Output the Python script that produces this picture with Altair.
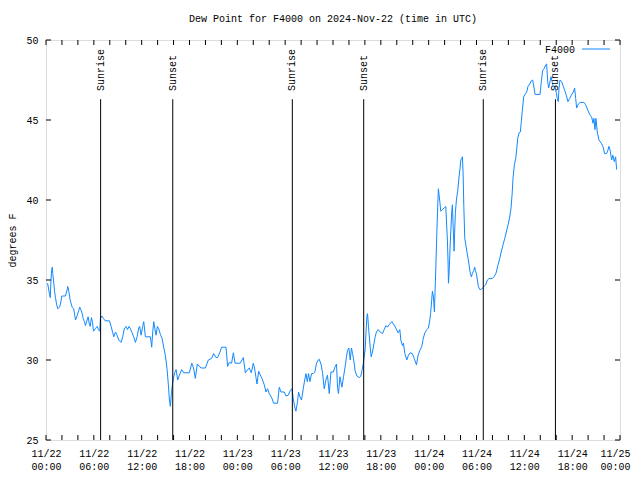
import altair as alt
import pandas as pd

# Dew point series (hours since 2024-11-22 00:00 UTC, degrees F)
hours = [0.19,0.31,0.44,0.53,0.60,0.69,0.78,0.85,0.98,1.07,1.19,1.32,1.48,1.69,1.82,1.98,2.19,2.44,2.66,2.73,
         2.86,3.03,3.28,3.48,3.70,3.86,4.11,4.24,4.41,4.54,4.66,4.82,4.95,5.16,5.29,5.41,5.54,5.70,5.83,5.95,
         6.17,6.42,6.58,6.74,6.83,6.99,7.21,7.42,7.96,8.17,8.37,8.50,8.71,8.92,9.12,9.42,9.62,9.84,10.05,10.21,
         10.43,10.59,10.80,11.00,11.22,11.43,11.63,11.75,11.93,12.13,12.26,12.47,13.10,13.26,13.38,13.51,13.68,13.81,13.97,14.14,
         14.35,14.56,14.76,14.97,15.19,15.35,15.48,15.60,15.73,15.85,15.98,16.14,16.32,16.52,16.73,17.02,17.27,17.98,18.29,18.51,
         18.73,18.98,19.45,19.99,20.36,20.78,21.03,21.33,21.53,21.83,22.03,22.58,22.78,22.99,23.28,23.50,23.71,24.37,24.75,25.00,
         25.29,25.50,25.75,26.00,26.16,26.34,26.47,26.67,26.88,27.09,27.38,27.59,27.79,28.01,28.35,28.55,29.05,29.26,29.47,29.89,
         30.10,30.39,30.64,30.85,31.01,31.18,31.35,31.55,31.68,31.85,32.05,32.27,32.48,32.61,32.77,32.93,33.11,33.31,33.52,33.73,
         33.93,34.15,34.27,34.49,34.69,34.90,35.11,35.31,35.53,35.74,36.03,36.24,36.44,36.57,36.69,36.87,37.12,37.32,37.53,37.69,
         37.82,37.99,38.16,38.32,38.45,38.57,38.78,39.00,39.28,39.50,39.66,39.79,39.91,40.04,40.12,40.25,40.33,40.45,40.63,40.79,
         40.95,41.13,41.29,41.45,41.67,41.92,42.21,42.42,42.63,42.83,43.04,43.38,43.58,43.88,44.17,44.38,44.51,44.71,44.84,45.01,
         45.26,45.46,45.68,45.96,46.18,46.47,46.68,46.89,47.14,47.30,47.52,47.77,47.97,48.14,48.24,48.34,48.47,48.60,48.72,48.81,
         48.90,49.02,49.15,49.22,49.31,49.40,49.52,49.72,49.94,50.15,50.27,50.35,50.44,50.48,50.56,50.69,50.78,50.90,50.98,51.06,
         51.19,51.28,51.35,51.48,51.65,51.82,51.94,52.03,52.15,52.23,52.32,52.41,52.53,52.69,52.82,52.94,53.07,53.19,53.36,53.48,
         53.66,53.78,53.86,53.98,54.11,54.23,54.41,54.57,54.74,54.95,55.16,55.36,55.58,55.99,56.20,56.42,56.49,56.67,56.92,57.12,
         57.33,57.54,57.74,57.96,58.17,58.33,58.46,58.58,58.75,58.92,59.05,59.17,59.34,59.50,59.62,59.75,59.92,60.09,60.30,60.46,
         60.68,60.88,61.05,61.22,61.34,61.97,62.13,62.30,62.47,62.68,62.80,62.93,63.05,63.18,63.34,63.51,63.63,63.85,64.01,64.13,
         64.26,64.35,64.47,64.68,64.89,65.10,65.26,65.47,65.69,65.89,66.14,66.31,66.44,66.56,66.73,66.98,67.48,67.69,67.98,68.23,
         68.44,68.61,68.73,68.86,68.98,69.15,69.36,69.65,69.86,70.07,70.32,70.48,70.61,70.77,70.95,71.11,71.28,71.45,71.58]
dewpoint = [34.8,34.5,34.1,33.9,34.7,35.5,35.8,35.4,34.8,34.3,33.9,33.5,33.2,33.3,33.5,34.0,34.0,34.0,34.4,34.6,
            34.3,33.75,33.3,33.2,32.5,32.7,33.1,33.3,33.1,32.9,32.6,32.4,32.15,32.5,32.7,32.3,32.1,32.65,32.4,31.8,
            31.95,32.1,31.9,31.8,32.6,32.75,32.6,32.45,32.45,32.1,31.7,31.45,31.75,31.55,31.25,31.1,31.45,32.0,32.1,31.9,
            32.1,31.95,31.7,31.45,31.1,31.45,32.0,32.1,31.55,32.1,32.4,31.45,31.45,30.8,31.7,32.4,31.9,31.55,32.1,31.95,
            31.6,31.35,30.8,30.3,29.4,28.45,27.5,27.1,27.9,28.45,28.85,29.2,29.4,28.75,29.05,29.4,29.2,29.2,29.8,29.5,
            28.85,29.75,29.5,29.5,30.0,30.1,30.4,30.15,30.15,30.5,30.8,30.8,29.6,29.85,29.8,30.45,29.8,29.8,30.15,29.2,
            29.4,29.5,29.2,29.8,29.5,28.9,28.5,29.3,29.06,28.85,28.45,28.0,28.2,27.9,27.6,27.3,27.3,28.3,28.0,28.0,
            27.75,27.8,28.1,28.2,27.6,27.1,26.8,27.4,28.0,27.7,27.5,28.2,28.85,29.15,28.65,29.15,28.65,29.15,29.15,29.25,
            29.8,30.0,30.05,29.75,29.2,28.2,28.75,29.05,27.9,29.25,29.25,29.55,29.75,28.3,27.9,28.95,28.3,28.95,29.6,30.2,
            30.6,30.75,30.0,30.75,30.4,30.1,29.3,29.0,28.9,29.0,29.4,29.75,30.2,30.7,31.55,32.7,32.9,32.1,31.0,30.2,
            30.5,31.0,31.45,31.75,31.9,31.75,31.65,31.9,32.15,32.05,32.2,32.4,32.25,32.0,31.7,31.9,31.25,30.9,31.05,30.4,
            30.0,30.3,30.45,30.4,30.1,29.7,30.3,30.6,30.85,31.3,31.7,31.9,32.0,32.5,32.9,33.5,34.3,33.95,33.0,34.4,
            35.8,37.9,39.8,40.7,40.3,39.9,39.3,39.4,39.5,39.6,38.3,37.5,36.0,34.8,35.4,37.1,38.1,39.3,39.7,38.5,
            36.8,38.3,39.2,40.0,40.6,41.5,42.0,42.5,42.6,42.7,41.7,39.6,37.6,37.1,36.7,36.35,35.95,35.5,35.2,35.4,
            35.6,35.8,35.6,35.4,35.0,34.6,34.4,34.4,34.5,34.6,34.7,35.0,35.1,35.1,35.2,35.4,35.5,35.9,36.35,36.8,
            37.2,37.6,38.0,38.45,38.95,39.5,40.3,41.35,42.2,42.6,43.2,43.85,44.2,44.25,44.9,45.6,46.45,46.6,46.75,47.1,
            47.25,47.45,47.5,47.0,46.6,46.6,47.4,48.1,48.2,48.45,48.5,47.4,47.0,47.3,47.7,47.35,47.1,47.1,46.7,46.35,
            46.15,47.0,47.5,47.4,47.1,46.8,46.55,46.15,46.35,46.55,46.75,47.0,46.35,45.75,45.95,46.1,46.1,45.95,45.6,45.3,
            45.2,44.8,45.1,44.4,45.1,44.25,43.75,43.55,43.35,42.9,42.9,43.1,43.35,43.1,42.5,42.8,42.4,42.7,41.9]

# Sun events (hours since start)
sun_hours = [6.85, 15.9, 30.9, 39.85, 54.85, 63.9]
sun_labels = ["Sunrise", "Sunset", "Sunrise", "Sunset", "Sunrise", "Sunset"]

# Axis ticks / labels
x_label_hours = [0, 6, 12, 18, 24, 30, 36, 42, 48, 54, 60, 66, 72]
x_tick_labels = ["11/22|00:00", "11/22|06:00", "11/22|12:00", "11/22|18:00",
                 "11/23|00:00", "11/23|06:00", "11/23|12:00", "11/23|18:00",
                 "11/24|00:00", "11/24|06:00", "11/24|12:00", "11/24|18:00",
                 "11/25|00:00"]
x_minor_hours = list(range(0, 73, 2))
y_ticks = [25, 30, 35, 40, 45, 50]

FONT = "Liberation Mono"
LINE_COLOR = "#1288ff"
W, H = 574, 400

df = pd.DataFrame({"h": hours, "dp": dewpoint})
sun = pd.DataFrame({"h": sun_hours, "label": sun_labels})
xt = pd.DataFrame({"h": x_minor_hours})
yt = pd.DataFrame({"v": y_ticks})

label_arr = "[" + ",".join("'" + s + "'" for s in x_tick_labels) + "]"
x_scale = alt.Scale(domain=[0, 72], nice=False, zero=False)
y_scale = alt.Scale(domain=[25, 50], nice=False, zero=False)

x_axis = alt.Axis(values=x_label_hours, labelExpr=f"split({label_arr}[round(datum.value/6)], '|')",
                  ticks=False, domain=False, grid=False, labelPadding=8, labelLineHeight=13,
                  labelFlush=False, labelOverlap=False, labelBound=False, labelAlign="center",
                  labelOffset=alt.condition("datum.value == 72", alt.value(-5), alt.value(0)),
                  labelFont=FONT, labelFontSize=10, labelColor="black", title=None, labelAngle=0)
y_axis = alt.Axis(values=y_ticks, ticks=False, domain=False, grid=False, labelPadding=8,
                  labelFlush=False, labelOverlap=False,
                  labelFont=FONT, labelFontSize=10, labelColor="black",
                  title="degrees F", titleFont=FONT, titleFontSize=10, titleFontWeight="normal",
                  titleColor="black", titleX=-34, titleY=200, titleAngle=270, titleAlign="center",
                  titleBaseline="middle")

line = alt.Chart(df).mark_line(color=LINE_COLOR, strokeWidth=1, interpolate="linear").encode(
    x=alt.X("h:Q", scale=x_scale, axis=x_axis),
    y=alt.Y("dp:Q", scale=y_scale, axis=y_axis),
)

sun_rules = alt.Chart(sun).mark_rule(color="black", strokeWidth=1).encode(
    x=alt.X("h:Q", scale=x_scale),
    y=alt.datum(25),
    y2=alt.datum(46.3),
)
sun_text = alt.Chart(sun).mark_text(angle=270, align="left", baseline="middle",
                                    font=FONT, fontSize=10, color="black", dx=1).encode(
    x=alt.X("h:Q", scale=x_scale),
    y=alt.datum(46.75),
    text="label:N",
)

bottom_ticks = alt.Chart(xt).mark_rule(color="black").encode(
    x=alt.X("h:Q", scale=x_scale), y=alt.value(H), y2=alt.value(H - 5))
top_ticks = alt.Chart(xt).mark_rule(color="black").encode(
    x=alt.X("h:Q", scale=x_scale), y=alt.value(0), y2=alt.value(5))
left_ticks = alt.Chart(yt).mark_rule(color="black").encode(
    y=alt.Y("v:Q", scale=y_scale), x=alt.value(0), x2=alt.value(5))
right_ticks = alt.Chart(yt).mark_rule(color="black").encode(
    y=alt.Y("v:Q", scale=y_scale), x=alt.value(W), x2=alt.value(W - 5))

legend_text = alt.Chart(pd.DataFrame({"t": ["F4000"]})).mark_text(
    align="right", baseline="middle", font=FONT, fontSize=10, color="black").encode(
    x=alt.value(529), y=alt.value(10), text="t:N")
legend_line = alt.Chart(pd.DataFrame({"t": ["F4000"]})).mark_rule(
    color=LINE_COLOR, strokeWidth=1).encode(x=alt.value(536), x2=alt.value(564), y=alt.value(9))

chart = alt.layer(
    line, sun_rules, sun_text, bottom_ticks, top_ticks, left_ticks, right_ticks,
    legend_text, legend_line,
).properties(
    width=W, height=H,
    title=alt.TitleParams("Dew Point for F4000 on 2024-Nov-22 (time in UTC)",
                          font=FONT, fontSize=10, fontWeight="normal", color="black",
                          anchor="middle", offset=11),
    padding={"left": 38, "top": 32, "right": 12, "bottom": 36},
    autosize="none",
).configure_view(stroke="black", strokeWidth=1).configure(background="white")

chart.save("out.html", embed_options={"renderer": "svg", "actions": False})
